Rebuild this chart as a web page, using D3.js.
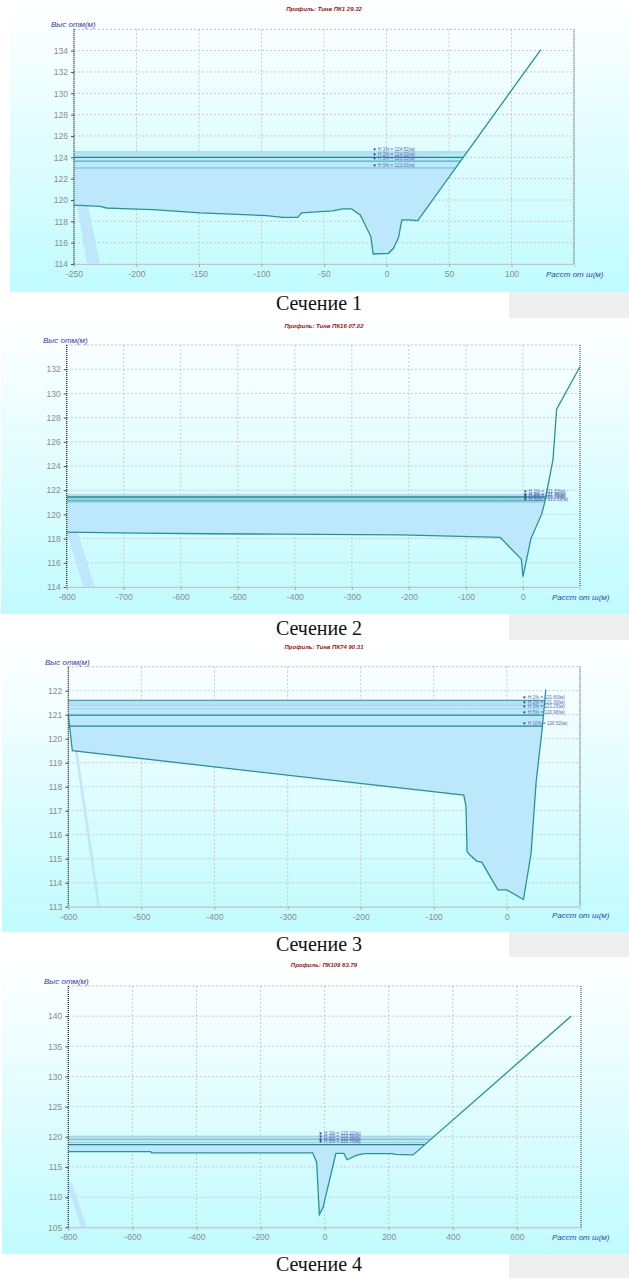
<!DOCTYPE html>
<html>
<head>
<meta charset="utf-8">
<script src="https://cdn.jsdelivr.net/npm/d3@7/dist/d3.min.js"></script>
<style>
  html, body { margin: 0; padding: 0; background: #ffffff; }
  svg { display: block; }
</style>
</head>
<body>
<svg id="chart" width="629" height="1278"></svg>
<script>
// ---- Section 1 ----
const sec1Title = "Профиль: Тинв ПК1 29.32";
const sec1Dist = [-250, -245, -229, -224, -211, -187, -149, -96, -83, -71, -68, -53, -43, -35, -28, -21, -12.5, -10.7, 1.6, 5.6, 9.6, 12.3, 17.6, 25, 123.5];
const sec1Elev = [119.5, 119.5, 119.4, 119.25, 119.2, 119.1, 118.8, 118.53, 118.37, 118.37, 118.8, 118.9, 118.98, 119.17, 119.17, 118.6, 116.57, 114.94, 115.0, 115.47, 116.47, 118.13, 118.13, 118.07, 134.1];
const sec1Levels = [124.52, 124.0, 123.65, 123.0];
const sec1LevelNames = ["H 1%", "H 2%", "H 3%", "H 5%"];
const sec1ShadeDist = [-250, -247.4, -229.2, -239.6, -250];
const sec1ShadeElev = [124.52, 124.52, 114, 114, 121.05];
const sec1XTicks = [-250, -200, -150, -100, -50, 0, 50, 100];
const sec1YTicks = [114, 116, 118, 120, 122, 124, 126, 128, 130, 132, 134];

// ---- Section 2 ----
const sec2Title = "Профиль: Тинв ПК16 07.02";
const sec2Dist = [-800, -675, -549, -426, -214, -40, -2.8, 0, 14, 32.5, 38, 52.6, 59, 100];
const sec2Elev = [118.54, 118.46, 118.4, 118.37, 118.3, 118.1, 116.3, 114.85, 118.0, 120.0, 120.95, 124.5, 128.7, 132.2];
const sec2Levels = [121.63, 121.44, 121.3, 121.16, 121.03];
const sec2LevelNames = ["H 1%", "H 2%", "H 3%", "H 5%", "H 10%"];
const sec2ShadeDist = [-800, -750.4, -770.8, -800];
const sec2ShadeElev = [121.34, 114, 114, 118.5];
const sec2XTicks = [-800, -700, -600, -500, -400, -300, -200, -100, 0];
const sec2YTicks = [114, 116, 118, 120, 122, 124, 126, 128, 130, 132];

// ---- Section 3 ----
const sec3Title = "Профиль: Тинв ПК74 90.31";
const sec3Dist = [-600, -594.5, -59, -56, -54.5, -50.5, -41.4, -34.2, -12.3, 0, 22.6, 33, 40, 48.6, 53.2];
const sec3Elev = [121.0, 119.5, 117.65, 117.2, 115.3, 115.15, 114.9, 114.85, 113.7, 113.7, 113.3, 115.2, 118.2, 120.5, 122.05];
const sec3Levels = [121.6, 121.39, 121.25, 120.98, 120.52];
const sec3LevelNames = ["H 1%", "H 2%", "H 3%", "H 5%", "H 10%"];
const sec3ShadeDist = [-599.5, -596, -556.5, -560];
const sec3ShadeElev = [121.3, 121.3, 113, 113];
const sec3XTicks = [-600, -500, -400, -300, -200, -100, 0];
const sec3YTicks = [113, 114, 115, 116, 117, 118, 119, 120, 121, 122];

// ---- Section 4 ----
const sec4Title = "Профиль: ПК109 63.79";
const sec4Dist = [-800, -543, -540, -37.5, -25, -16.5, -5, 25, 35, 60, 70, 100, 125, 213, 220, 276, 769];
const sec4Elev = [117.55, 117.55, 117.35, 117.35, 115.8, 107.1, 108.3, 115.0, 117.25, 117.25, 116.2, 116.95, 117.2, 117.2, 117.1, 117.0, 140.0];
const sec4Levels = [120.1, 119.56, 119.06, 118.7];
const sec4LevelNames = ["H 1%", "H 2%", "H 3%", "H 5%"];
const sec4ShadeDist = [-800, -789, -741, -760, -800];
const sec4ShadeElev = [112.4, 112.4, 105, 105, 111.3];
const sec4XTicks = [-800, -600, -400, -200, 0, 200, 400, 600];
const sec4YTicks = [105, 110, 115, 120, 125, 130, 135, 140];

const captions = ["Сечение 1", "Сечение 2", "Сечение 3", "Сечение 4"];

// Layout of each panel: background box, plot rectangle, scale domains, text anchors
const panels = [
  {
    title: sec1Title, dist: sec1Dist, elev: sec1Elev, levels: sec1Levels, names: sec1LevelNames,
    shadeDist: sec1ShadeDist, shadeElev: sec1ShadeElev, xTicks: sec1XTicks, yTicks: sec1YTicks,
    bg: [10, 3, 619, 289], plot: [74, 574, 29.3, 264], xDom: [-250, 150], yDom: [114, 136],
    titleY: 11, yTitle: [51, 27], xTitle: [546, 277], labelX: -11.4, caption: 310, gray: [292, 318],
    lineStyles: [["#a6d8e6", 1], ["#1f8a8c", 1.3], ["#56b0b6", 1.2], ["#6dbec6", 1.1]]
  },
  {
    title: sec2Title, dist: sec2Dist, elev: sec2Elev, levels: sec2Levels, names: sec2LevelNames,
    shadeDist: sec2ShadeDist, shadeElev: sec2ShadeElev, xTicks: sec2XTicks, yTicks: sec2YTicks,
    bg: [1, 318, 628, 296], plot: [66.7, 580, 345, 587], xDom: [-800, 100], yDom: [114, 134],
    titleY: 328, yTitle: [43, 343], xTitle: [552, 600], labelX: 0, caption: 635, gray: [614, 640],
    lineStyles: [["#a6d8e6", 1], ["#1f8a8c", 1.3], ["#8fcbd6", 1], ["#56b0b6", 1.2], ["#6dbec6", 1]]
  },
  {
    title: sec3Title, dist: sec3Dist, elev: sec3Elev, levels: sec3Levels, names: sec3LevelNames,
    shadeDist: sec3ShadeDist, shadeElev: sec3ShadeElev, xTicks: sec3XTicks, yTicks: sec3YTicks,
    bg: [2, 640, 627, 292], plot: [68.3, 580, 666.7, 906.7], xDom: [-600, 100], yDom: [113, 123],
    titleY: 649, yTitle: [45, 665], xTitle: [552, 918], labelX: 20.8, caption: 951, gray: [932, 957],
    lineStyles: [["#3ea6aa", 1.2], ["#a2d6e2", 1], ["#a2d6e2", 1], ["#1f8a8c", 1.3], ["#1f8a8c", 1.3]]
  },
  {
    title: sec4Title, dist: sec4Dist, elev: sec4Elev, levels: sec4Levels, names: sec4LevelNames,
    shadeDist: sec4ShadeDist, shadeElev: sec4ShadeElev, xTicks: sec4XTicks, yTicks: sec4YTicks,
    bg: [2, 957, 627, 297], plot: [68.3, 581, 986, 1227.3], xDom: [-800, 800], yDom: [105, 145],
    titleY: 967, yTitle: [44, 984], xTitle: [552, 1240], labelX: -20, caption: 1271, gray: [1254, 1278],
    lineStyles: [["#9fd2e0", 1], ["#7cc3ce", 1.2], ["#9fd2dc", 1], ["#1f8a8c", 1.3]]
  }
];

const svg = d3.select("#chart");
const defs = svg.append("defs");

const grad = defs.append("linearGradient")
  .attr("id", "panelBg").attr("x1", 0).attr("y1", 0).attr("x2", 0).attr("y2", 1);
grad.append("stop").attr("offset", "0%").attr("stop-color", "#ffffff");
grad.append("stop").attr("offset", "45%").attr("stop-color", "#e4fdff");
grad.append("stop").attr("offset", "100%").attr("stop-color", "#c0fbfd");

// Ground points with the crossings of a water level inserted, so the
// water area and level line stop exactly where the bank meets the level.
function withCrossings(dist, elev, L) {
  const pts = [];
  for (let i = 0; i < dist.length; i++) {
    pts.push({ x: dist[i], g: elev[i] });
    if (i < dist.length - 1) {
      const a = elev[i] - L, b = elev[i + 1] - L;
      if (a * b < 0) {
        const t = a / (a - b);
        pts.push({ x: dist[i] + t * (dist[i + 1] - dist[i]), g: L });
      }
    }
  }
  return pts;
}

panels.forEach((p, idx) => {
  const [bx, by, bw, bh] = p.bg;
  const [left, right, top, bottom] = p.plot;

  // grey strip beside the caption
  svg.append("rect").attr("x", 509).attr("y", p.gray[0]).attr("width", 120)
    .attr("height", p.gray[1] - p.gray[0]).attr("fill", "#efefef");

  svg.append("rect").attr("x", bx).attr("y", by).attr("width", bw).attr("height", bh)
    .attr("fill", "url(#panelBg)");

  const sx = d3.scaleLinear().domain(p.xDom).range([left, right]);
  const sy = d3.scaleLinear().domain(p.yDom).range([bottom, top]);

  const clipId = "clip" + idx;
  defs.append("clipPath").attr("id", clipId).append("rect")
    .attr("x", left).attr("y", top).attr("width", right - left).attr("height", bottom - top);

  const g = svg.append("g");

  // grid
  g.append("g").selectAll("line").data(p.yTicks).join("line")
    .attr("x1", left).attr("x2", right)
    .attr("y1", d => sy(d)).attr("y2", d => sy(d))
    .attr("stroke", "#c9c9c9").attr("stroke-width", 1).attr("stroke-dasharray", "2,2");
  g.append("g").selectAll("line").data(p.xTicks).join("line")
    .attr("x1", d => sx(d)).attr("x2", d => sx(d))
    .attr("y1", top).attr("y2", bottom)
    .attr("stroke", "#c9c9c9").attr("stroke-width", 1).attr("stroke-dasharray", "2,2");
  g.append("line").attr("x1", left).attr("x2", right).attr("y1", top).attr("y2", top)
    .attr("stroke", "#bdbdbd").attr("stroke-dasharray", "2,2");

  const plotArea = g.append("g").attr("clip-path", `url(#${clipId})`);

  // light shading under the left edge
  const shade = p.shadeDist.map((d, i) => [sx(d), sy(p.shadeElev[i])]);
  plotArea.append("path").attr("d", d3.line()(shade) + "Z")
    .attr("fill", "#bfe6fb").attr("stroke", "none");

  // water body under the highest level
  const topLevel = p.levels[0];
  const wp = withCrossings(p.dist, p.elev, topLevel);
  plotArea.append("path").datum(wp)
    .attr("d", d3.area().x(d => sx(d.x)).y0(d => sy(Math.min(d.g, topLevel))).y1(sy(topLevel)))
    .attr("fill", "#bde8fb");

  // band between the two highest levels
  if (p.levels.length > 1) {
    const second = p.levels[1];
    plotArea.append("path").datum(wp)
      .attr("d", d3.area().x(d => sx(d.x))
        .y0(d => sy(Math.max(Math.min(d.g, topLevel), second)))
        .y1(sy(topLevel)))
      .attr("fill", "#b3e0f4").attr("opacity", 0.8);
  }

  // water level lines, drawn only over water
  p.levels.slice().reverse().forEach((L) => {
    const k = p.levels.indexOf(L);
    const pts = withCrossings(p.dist, p.elev, L);
    plotArea.append("path").datum(pts)
      .attr("d", d3.line().defined(d => d.g <= L + 1e-9).x(d => sx(d.x)).y(sy(L)))
      .attr("fill", "none")
      .attr("stroke", p.lineStyles[k][0]).attr("stroke-width", p.lineStyles[k][1]);
  });

  // ground profile
  plotArea.append("path").datum(p.dist.map((d, i) => [d, p.elev[i]]))
    .attr("d", d3.line().x(d => sx(d[0])).y(d => sy(d[1])))
    .attr("fill", "none").attr("stroke", "#239595").attr("stroke-width", 1.3);

  // level labels
  const lab = g.append("g").attr("font-family", "Liberation Sans, Arial, sans-serif")
    .attr("font-size", 4.6);
  p.levels.forEach((L, k) => {
    const t = lab.append("text").attr("x", sx(p.labelX)).attr("y", sy(L) - 1.2);
    t.append("tspan").attr("fill", "#2a3aa0").attr("font-weight", "bold").text("▼ ");
    t.append("tspan").attr("fill", "#5a68b8").text(`${p.names[k]} = ${L.toFixed(2)}(м)`);
  });

  // axes
  const yAxis = d3.axisLeft(sy).tickValues(p.yTicks).tickSize(3).tickPadding(3)
    .tickFormat(d3.format("d"));
  const ya = g.append("g").attr("transform", `translate(${left},0)`).call(yAxis);
  ya.select(".domain").remove();
  ya.selectAll(".tick line").attr("stroke", "#555");
  ya.selectAll(".tick text").attr("fill", "#8c8c8c").attr("font-size", 8.5)
    .attr("font-family", "Liberation Sans, Arial, sans-serif");

  const xAxis = d3.axisBottom(sx).tickValues(p.xTicks).tickSize(3).tickPadding(4)
    .tickFormat(d => String(d));
  const xa = g.append("g").attr("transform", `translate(0,${bottom})`).call(xAxis);
  xa.select(".domain").attr("stroke", "#c4c4c4");
  xa.selectAll(".tick line").attr("stroke", "#aaaaaa");
  xa.selectAll(".tick text").attr("fill", "#8c8c8c").attr("font-size", 8.5)
    .attr("font-family", "Liberation Sans, Arial, sans-serif");

  // left axis and right border as dark dotted lines
  g.append("line").attr("x1", left).attr("x2", left).attr("y1", top).attr("y2", bottom)
    .attr("stroke", "#222").attr("stroke-width", 1.2).attr("stroke-dasharray", "1,1");
  g.append("line").attr("x1", right).attr("x2", right).attr("y1", top).attr("y2", bottom)
    .attr("stroke", "#333").attr("stroke-width", 1).attr("stroke-dasharray", "1,1");

  // titles
  g.append("text").attr("x", 324).attr("y", p.titleY).attr("text-anchor", "middle")
    .attr("font-family", "Liberation Sans, Arial, sans-serif").attr("font-size", 6)
    .attr("font-style", "italic").attr("font-weight", "bold").attr("fill", "#a01212")
    .text(p.title);
  g.append("text").attr("x", p.yTitle[0]).attr("y", p.yTitle[1])
    .attr("font-family", "Liberation Sans, Arial, sans-serif").attr("font-size", 8)
    .attr("font-style", "italic").attr("fill", "#3838a8").text("Выс отм(м)");
  g.append("text").attr("x", p.xTitle[0]).attr("y", p.xTitle[1])
    .attr("font-family", "Liberation Sans, Arial, sans-serif").attr("font-size", 8)
    .attr("font-style", "italic").attr("fill", "#2a44b4").text("Расст от ш(м)");

  // caption under the panel
  svg.append("text").attr("x", 319).attr("y", p.caption).attr("text-anchor", "middle")
    .attr("font-family", "Liberation Serif, Times New Roman, serif").attr("font-size", 20)
    .attr("fill", "#111").text(captions[idx]);
});
</script>
</body>
</html>
